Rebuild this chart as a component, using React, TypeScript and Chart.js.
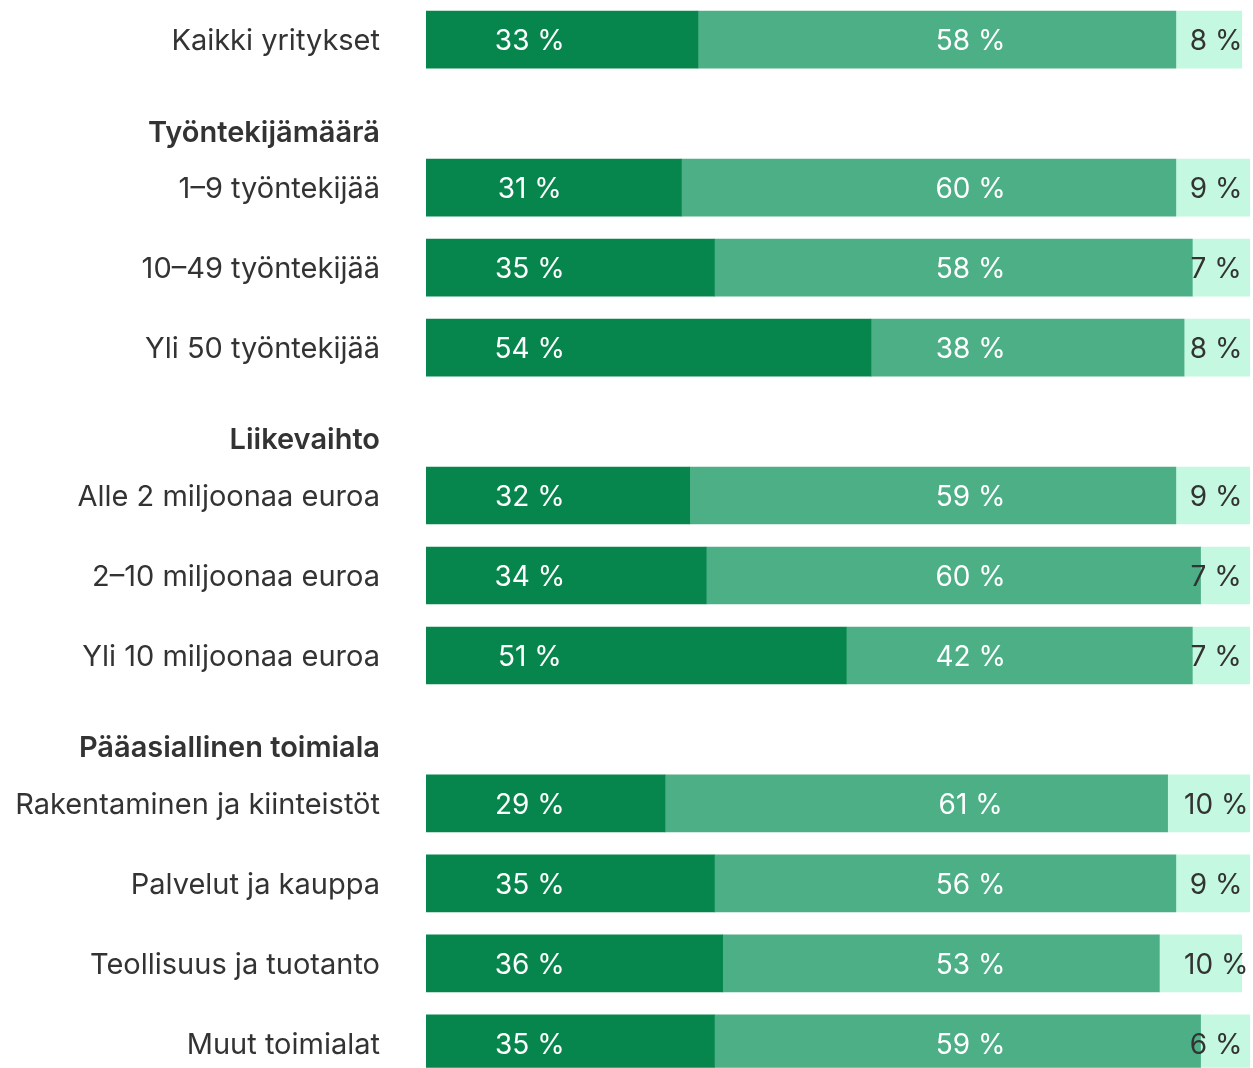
import React, { useEffect, useRef } from "react";
import { Chart, registerables } from "chart.js";

Chart.register(...registerables);

// Rows in display order; headers have no bars
const ROW_LABELS = [
  "Kaikki yritykset",
  "Työntekijämäärä",
  "1–9 työntekijää",
  "10–49 työntekijää",
  "Yli 50 työntekijää",
  "Liikevaihto",
  "Alle 2 miljoonaa euroa",
  "2–10 miljoonaa euroa",
  "Yli 10 miljoonaa euroa",
  "Pääasiallinen toimiala",
  "Rakentaminen ja kiinteistöt",
  "Palvelut ja kauppa",
  "Teollisuus ja tuotanto",
  "Muut toimialat",
];
const HEADER_ROWS = [1, 5, 9];

// values for bar rows only (order of non-header rows)
const SERIES_1 = [33, 31, 35, 54, 32, 34, 51, 29, 35, 36, 35];
const SERIES_2 = [58, 60, 58, 38, 59, 60, 42, 61, 56, 53, 59];
const SERIES_3 = [8, 9, 7, 8, 9, 7, 7, 10, 9, 10, 6];
const SERIES_NAMES = ["Kyllä", "Ei", "En osaa sanoa"];
const COLORS = ["#06864c", "#4caf86", "#c4f8e0"];
const LABEL_COLORS = ["#ffffff", "#ffffff", "#333333"];
const LABEL_COLUMNS = [12.6, 66.1, 95.9];

// row spacing (in row units)
const GAP_BAR = 1;
const GAP_BEFORE_HEADER = 1.14;
const GAP_AFTER_HEADER = 0.71;

function rowPositions(): number[] {
  const pos: number[] = [];
  let p = 0;
  ROW_LABELS.forEach((_, i) => {
    if (i === 0) {
      pos.push(0);
      return;
    }
    const isHeader = HEADER_ROWS.includes(i);
    const prevHeader = HEADER_ROWS.includes(i - 1);
    if (isHeader) p += GAP_BEFORE_HEADER;
    else if (prevHeader) p += GAP_AFTER_HEADER;
    else p += GAP_BAR;
    pos.push(p);
  });
  return pos;
}

export default function App() {
  const ref = useRef<HTMLCanvasElement | null>(null);
  useEffect(() => {
    if (!ref.current) return;
    const POS = rowPositions();
    const barPos = POS.filter((_, i) => !HEADER_ROWS.includes(i));
    const series = [SERIES_1, SERIES_2, SERIES_3];
    const labelPlugin = {
      id: "segLabels",
      afterDatasetsDraw(chart: any) {
        const { ctx } = chart;
        const xs = chart.scales.x;
        ctx.save();
        ctx.font = "28px Inter";
        ctx.textAlign = "center";
        ctx.textBaseline = "middle";
        chart.data.datasets.forEach((ds: any, di: number) => {
          const meta = chart.getDatasetMeta(di);
          meta.data.forEach((el: any, j: number) => {
            const v = ds.data[j].x;
            ctx.fillStyle = LABEL_COLORS[di];
            ctx.fillText(v + " %", xs.getPixelForValue(LABEL_COLUMNS[di]), el.y + 2);
          });
        });
        ctx.restore();
      },
    };
    const chart = new Chart(ref.current, {
      type: "bar",
      data: {
        datasets: series.map((s, di) => ({
          label: SERIES_NAMES[di],
          data: s.map((v, j) => ({ x: v, y: barPos[j] })),
          backgroundColor: COLORS[di],
          borderWidth: 0,
          barThickness: 57,
        })),
      },
      options: {
        indexAxis: "y",
        animation: false,
        responsive: true,
        maintainAspectRatio: false,
        layout: { padding: { left: 0, right: 3, top: 0, bottom: 0 } },
        plugins: { legend: { display: false }, tooltip: { enabled: false } },
        scales: {
          x: { stacked: true, min: 0, max: 100, display: false },
          y: {
            type: "linear",
            stacked: true,
            reverse: true,
            offset: false,
            min: -0.494,
            max: 12.856,
            afterBuildTicks: (axis: any) => {
              axis.ticks = POS.map((v) => ({ value: v }));
            },
            afterFit: (axis: any) => {
              axis.width = 426;
            },
            border: { display: false },
            grid: {
              display: true,
              drawOnChartArea: false,
              drawTicks: true,
              tickLength: 46,
              color: "rgba(0,0,0,0)",
              offset: false,
            },
            ticks: {
              autoSkip: false,
              padding: 0,
              labelOffset: 2,
              color: "#333333",
              font: (c: any) => ({
                family: "Inter",
                size: 29,
                lineHeight: 0.01,
                weight: HEADER_ROWS.includes(c.index) ? "600" : "normal",
              }),
              callback: (_v: any, i: number) => ROW_LABELS[i],
            },
          },
        },
      },
      plugins: [labelPlugin],
    } as any);
    return () => chart.destroy();
  }, []);
  return (
    <div style={{ position: "absolute", left: 0, top: 0, width: 1253, height: 1068, background: "#fff" }}>
      <canvas ref={ref} />
    </div>
  );
}
